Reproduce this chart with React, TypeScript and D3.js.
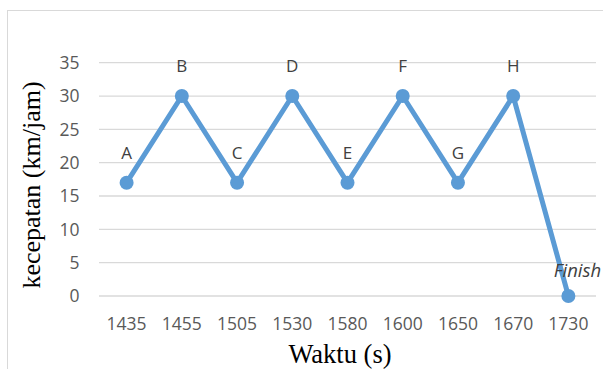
import React from "react";
import * as d3 from "d3";

const categories = ["1435", "1455", "1505", "1530", "1580", "1600", "1650", "1670", "1730"];
const speeds = [17, 30, 17, 30, 17, 30, 17, 30, 0];
const pointLabels = ["A", "B", "C", "D", "E", "F", "G", "H", "Finish"];
const yTicks = [0, 5, 10, 15, 20, 25, 30, 35];

export default function App() {
  const W = 603, H = 369;
  const left = 99, right = 596, top = 62.7, bottom = 296;
  const x = d3.scaleBand<string>().domain(categories).range([left, right]);
  const y = d3.scaleLinear().domain([0, 35]).range([bottom, top]);
  const cx = (c: string) => (x(c) as number) + x.bandwidth() / 2;
  const line = d3.line<number>().x((_, i) => cx(categories[i])).y((d) => y(d));
  const tickFont = "'Open Sans', sans-serif";
  return (
    <svg width={W} height={H} style={{ position: "absolute", left: 0, top: 0 }}>
      <rect x={0} y={0} width={W} height={H} fill="#fff" />
      <rect x={7.5} y={10.5} width={W + 10} height={H + 10} fill="none" stroke="#d9d9d9" strokeWidth={1} />
      {yTicks.map((t) => (
        <g key={t}>
          <line x1={left} x2={right} y1={y(t)} y2={y(t)} stroke="#d9d9d9" strokeWidth={1.3} />
          <text x={79.5} y={y(t)} dy="0.36em" textAnchor="end" fontFamily={tickFont} fontSize={17.5} fill="#595959">
            {t}
          </text>
        </g>
      ))}
      {categories.map((c) => (
        <text key={c} x={cx(c)} y={330} textAnchor="middle" fontFamily={tickFont} fontSize={17.5} fill="#595959">
          {c}
        </text>
      ))}
      <path d={line(speeds) || ""} fill="none" stroke="#5b9bd5" strokeWidth={5} strokeLinejoin="round" />
      {speeds.map((v, i) => (
        <circle key={i} cx={cx(categories[i])} cy={y(v)} r={7} fill="#5b9bd5" />
      ))}
      {speeds.map((v, i) => {
        const isLast = i === speeds.length - 1;
        return (
          <text
            key={"l" + i}
            x={cx(categories[i]) + (isLast ? 9 : 0)}
            y={y(v) - (isLast ? 19 : 24)}
            textAnchor="middle"
            fontFamily={tickFont}
            fontSize={isLast ? 18.5 : 17}
            fontStyle={isLast ? "italic" : "normal"}
            fill="#404040"
          >
            {pointLabels[i]}
          </text>
        );
      })}
      <text
        transform={`translate(40,185) rotate(-90)`}
        textAnchor="middle"
        fontFamily="'Liberation Serif', 'Times New Roman', serif"
        fontSize={26}
        fill="#000"
      >
        kecepatan (km/jam)
      </text>
      <text x={340} y={363} textAnchor="middle" fontFamily="'Liberation Serif', 'Times New Roman', serif" fontSize={26.5} fill="#000">
        Waktu (s)
      </text>
    </svg>
  );
}
